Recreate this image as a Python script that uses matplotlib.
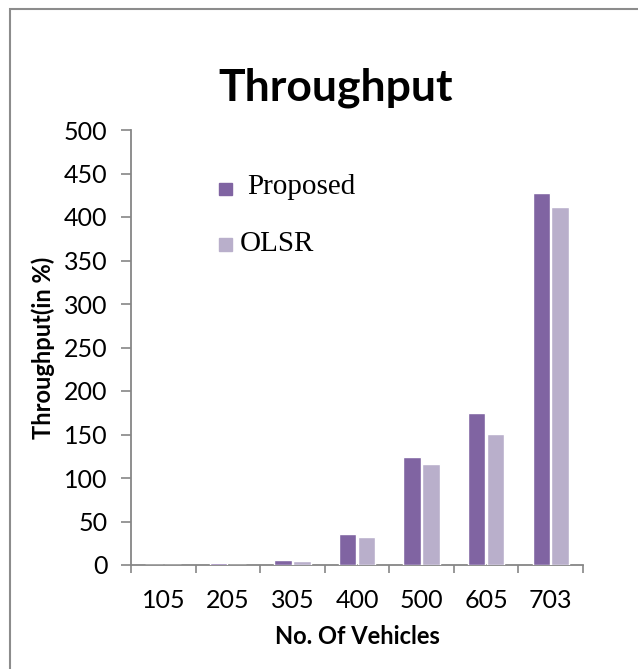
import numpy as np
import matplotlib.pyplot as plt
from matplotlib.patches import Rectangle

# data
vehicles = ["105", "205", "305", "400", "500", "605", "703"]
proposed = [0, 2, 6, 36, 124, 175, 428]
olsr = [0, 0.5, 5, 32, 116, 151, 411]

c_prop = "#8064A2"
c_olsr = "#B9AFCB"
grey = "#868686"

fig = plt.figure(figsize=(6.38, 6.69), dpi=100)
ax = fig.add_axes([131/638, 1-565/669, (583-131)/638, (565-130)/669])

x = np.arange(len(vehicles))
w = 0.27
ax.bar(x - w/2 - 0.01, proposed, w, color=c_prop, edgecolor="white", linewidth=1, zorder=3)
ax.bar(x + w/2 + 0.01, olsr, w, color=c_olsr, edgecolor="white", linewidth=1, zorder=3)

ax.set_xlim(-0.5, len(vehicles) - 0.5)
ax.set_ylim(0, 500)
ax.set_yticks(np.arange(0, 501, 50))
ax.set_xticks(x)
ax.set_xticklabels(vehicles)
ax.set_xticks(np.arange(-0.5, len(vehicles)), minor=True)
ax.tick_params(axis="x", which="major", length=0, pad=17)
ax.tick_params(axis="x", which="minor", length=6, color=grey, width=1.2)
ax.tick_params(axis="y", length=7, color=grey, width=1.2, pad=10)
for lab in ax.get_xticklabels() + ax.get_yticklabels():
    lab.set_fontfamily("Lato")
    lab.set_fontsize(18)

for s in ["top", "right"]:
    ax.spines[s].set_visible(False)
for s in ["left", "bottom"]:
    ax.spines[s].set_color(grey)
    ax.spines[s].set_linewidth(1.3)

ax.set_xlabel("No. Of Vehicles", fontfamily="Lato", fontweight="bold", fontsize=17, labelpad=10)
ax.set_ylabel("Throughput(in %)", fontfamily="Lato", fontweight="bold", fontsize=17, labelpad=6)
fig.text(336/638, 1-101/669, "Throughput", ha="center", va="baseline",
         fontfamily="Lato", fontweight="bold", fontsize=32)

# legend drawn inside the plot like the original
fig.patches.append(Rectangle((219/638, 1-195/669), 13/638, 12/669, transform=fig.transFigure,
                             color=c_prop, figure=fig))
fig.patches.append(Rectangle((219/638, 1-251/669), 13/638, 13/669, transform=fig.transFigure,
                             color=c_olsr, figure=fig))
fig.text(247/638, 1-187/669, "Proposed", ha="left", va="center",
         fontfamily="Liberation Serif", fontsize=21)
fig.text(240/638, 1-244/669, "OLSR", ha="left", va="center",
         fontfamily="Liberation Serif", fontsize=21)

# outer frame
fig.patches.append(Rectangle((10/638, -0.1), 1.2, 1 - 9/669 + 0.1, transform=fig.transFigure,
                             fill=False, edgecolor="#8c8c8c", linewidth=1.5, figure=fig))

fig.savefig("out.png", dpi=100)
